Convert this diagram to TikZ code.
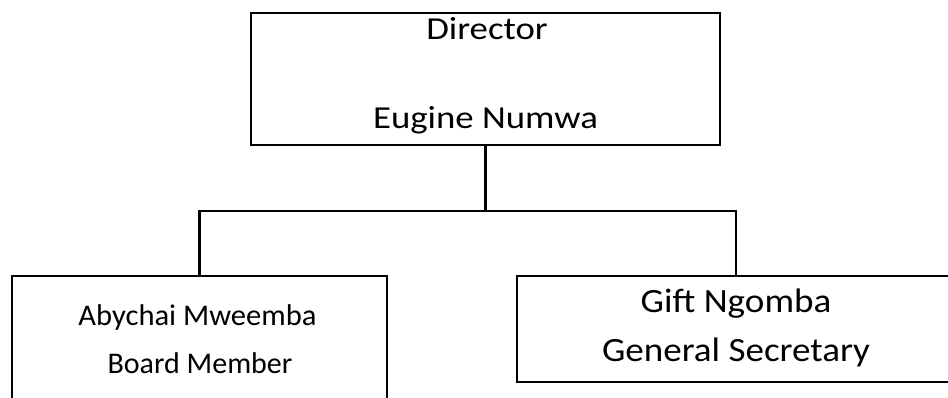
\documentclass[tikz,border=0pt]{standalone}
\usepackage{fontspec}
\setmainfont{Carlito}
\begin{document}
\begin{tikzpicture}[x=1pt,y=-1pt,
  box/.style={draw=black,line width=2.2pt,fill=none,inner sep=0pt},
  conn/.style={draw=black,line width=2.2pt},
  lbl/.style={anchor=base,inner sep=0pt}]
\useasboundingbox (0,0) rectangle (948,397);
\clip (0,0) rectangle (948,397);
\node[box,minimum width=469pt,minimum height=132pt] (top) at (485.5,79) {};
\node[box,minimum width=375pt,minimum height=150pt] (left) at (199.5,351) {};
\node[box,minimum width=438pt,minimum height=106pt] (right) at (736,329) {};
\coordinate (bus) at (485.5,211);
\draw[conn] (top.south) -- (bus);
\draw[conn] (left.north) |- (bus) -| (right.north);
\node[lbl,font=\fontsize{32}{36}\selectfont] (t1) at (487,39) {\scalebox{1.15}[1]{Director}};
\node[lbl,font=\fontsize{32}{36}\selectfont] (t2) at (485.5,128) {\scalebox{1.15}[1]{Eugine Numwa}};
\node[lbl,font=\fontsize{30}{34}\selectfont] (l1) at (197.5,325) {\scalebox{1.02}[1]{Abychai Mweemba}};
\node[lbl,font=\fontsize{30}{34}\selectfont] (l2) at (200,373) {\scalebox{1.0}[1]{Board Member}};
\node[lbl,font=\fontsize{34}{38}\selectfont] (r1) at (736,312) {\scalebox{1.09}[1]{Gift Ngomba}};
\node[lbl,font=\fontsize{34}{38}\selectfont] (r2) at (736,361) {\scalebox{1.09}[1]{General Secretary}};
\end{tikzpicture}
\end{document}
